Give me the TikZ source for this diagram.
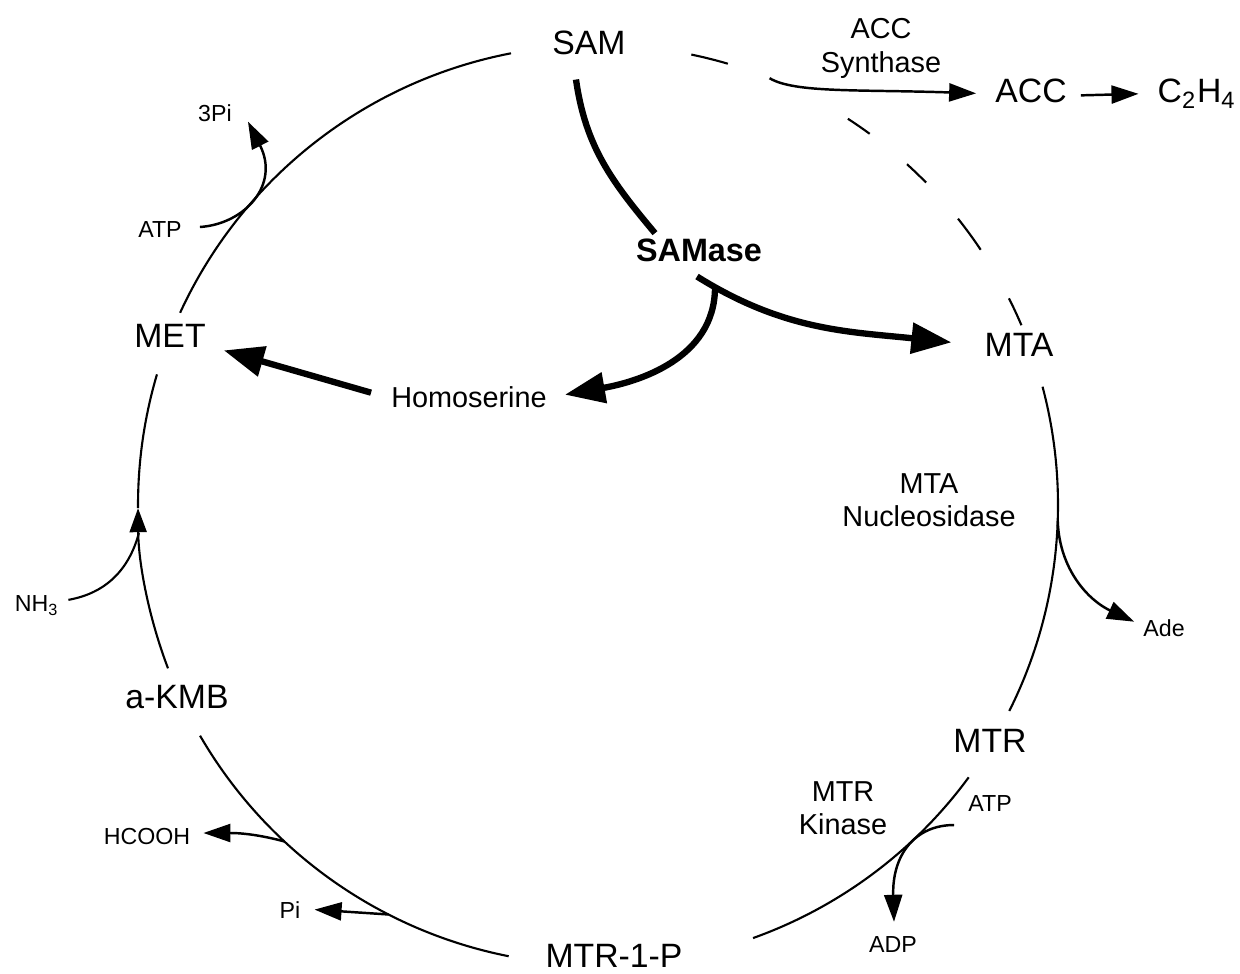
\documentclass[tikz,border=0pt]{standalone}
\usepackage{fontspec}
\setmainfont{Liberation Sans}
\usetikzlibrary{arrows.meta,calc}

\newcommand*{\cx}{598}
\newcommand*{\cy}{468}
\newcommand*{\rad}{460}

\begin{document}
\begin{tikzpicture}
[
	x=0.01cm, y=0.01cm,
	bigtxt/.style={font=\fontsize{9.6}{11}\selectfont, inner sep=1pt, anchor=base},
	midtxt/.style={font=\fontsize{8.2}{9.6}\selectfont, inner sep=1pt, align=center, anchor=north},
	smalltxt/.style={font=\fontsize{6.6}{8}\selectfont, inner sep=1pt, anchor=base},
	ring/.style={line width=0.6pt},
	thinarrow/.style={line width=0.7pt, -{Triangle[length=0.27cm, width=0.18cm]}},
	fatline/.style={line width=1.8pt},
	fatarrow/.style={line width=1.8pt, -{Triangle[length=0.4cm, width=0.3cm]}}
]

	\useasboundingbox (0,0) rectangle (1240,973);
	\fill[white] (0,0) rectangle (1240,973);

	% metabolites on the cycle
	\node[bigtxt] (sam) at (589,918) {SAM};
	\node[bigtxt] (mta) at (1019,616) {MTA};
	\node[bigtxt] (mtr) at (990,220) {MTR};
	\node[bigtxt] (mtrp) at (614,6) {MTR-1-P};
	\node[bigtxt] (akmb) at (177,264) {a-KMB};
	\node[bigtxt] (met) at (170,625) {MET};
	\node[bigtxt] (acc) at (1031,870) {ACC};
	\node[bigtxt] (c2h4) at (1197,870) {C\textsubscript{2}H\textsubscript{4}};
	\node[smalltxt, font=\fontsize{8.2}{10}\selectfont] (homoserine) at (469,565) {Homoserine};
	\node[bigtxt, font=\fontsize{9.2}{11}\selectfont\bfseries] (samase) at (699,711) {SAMase};

	% enzymes
	\node[midtxt] (accsyn) at (881,959) {ACC\\Synthase};
	\node[midtxt] (mtanuc) at (929,504) {MTA\\Nucleosidase};
	\node[midtxt] (mtrkin) at (843,196) {MTR\\Kinase};

	% side products
	\node[smalltxt] (atpl) at (160,735) {ATP};
	\node[smalltxt] (tripi) at (215,851) {3Pi};
	\node[smalltxt] (nh3) at (37,361) {NH\textsubscript{3}};
	\node[smalltxt] (hcooh) at (147,128) {HCOOH};
	\node[smalltxt] (pi) at (290,55) {Pi};
	\node[smalltxt] (ade) at (1164,336) {Ade};
	\node[smalltxt] (atpr) at (990,161) {ATP};
	\node[smalltxt] (adp) at (893,21) {ADP};

	% points on the cycle
	\coordinate (ctr) at (\cx,\cy);
	\coordinate (accin) at ($(ctr)+(68.1:\rad)$);
	\coordinate (nh3in) at ($(ctr)+(183.5:\rad)$);
	\coordinate (hcin) at ($(ctr)+(227:\rad)$);
	\coordinate (piin) at ($(ctr)+(242.9:\rad)$);
	\coordinate (adein) at ($(ctr)+(-2:\rad)$);

	% the cycle
	\draw[ring] (ctr) ++(100.9:\rad) arc[start angle=100.9, end angle=155.3, radius=\rad];
	\draw[ring] (ctr) ++(163.5:\rad) arc[start angle=163.5, end angle=180.4, radius=\rad];
	\draw[ring, -{Triangle[length=0.24cm, width=0.17cm]}] (ctr) ++(200.8:\rad) arc[start angle=200.8, end angle=180.4, radius=\rad];
	\draw[ring] (ctr) ++(210.1:\rad) arc[start angle=210.1, end angle=258.8, radius=\rad];
	\draw[ring] (ctr) ++(289.7:\rad) arc[start angle=289.7, end angle=323.7, radius=\rad];
	\draw[ring] (ctr) ++(-26.6:\rad) arc[start angle=-26.6, end angle=14.9, radius=\rad];
	\foreach \a/\b in {73.6/78.3, 53.8/57.1, 44.5/47.8, 33.7/38.5, 23.0/26.7}
		\draw[ring] (ctr) ++(\a:\rad) arc[start angle=\a, end angle=\b, radius=\rad];

	% SAMase shunt
	\draw[fatline] ([shift={(-13,-20)}]sam.south) to[out=-82, in=130] ([shift={(-44,2)}]samase.north);
	\draw[fatarrow] ([shift={(-2,-10)}]samase.south) to[out=-32, in=174] coordinate[pos=0.07] (split) ([shift={(-29,3)}]mta.west);
	\draw[fatarrow] (split) to[out=-90, in=10] ([shift={(14,3)}]homoserine.east);
	\draw[fatarrow] ([shift={(-16,5)}]homoserine.west) -- ([shift={(14,-14)}]met.east);

	% side reactions
	\draw[thinarrow] ([shift={(14,3)}]atpl.east) .. controls +(45,3) and +(32,-63) .. ([shift={(12,-8)}]tripi.east);
	\draw[ring] ([shift={(5,6)}]nh3.east) to[out=10, in=-105] (nh3in);
	\draw[thinarrow] (hcin) to[out=165, in=0] ([shift={(9,4)}]hcooh.east);
	\draw[thinarrow] (piin) -- ([shift={(10,0)}]pi.east);
	\draw[thinarrow] (adein) to[out=-88, in=155] ([shift={(-5,7)}]ade.west);
	\draw[thinarrow] ([shift={(-10,-21)}]atpr.west) .. controls +(-39,0) and +(-2,67) .. ([shift={(1,10)}]adp.north);
	\draw[thinarrow] (accin) .. controls +(25,-15) and +(-117,4) .. ([shift={(-15,-2)}]acc.west);
	\draw[thinarrow] ([shift={(10,-4)}]acc.east) -- ([shift={(-15,0)}]c2h4.west);

\end{tikzpicture}
\end{document}
